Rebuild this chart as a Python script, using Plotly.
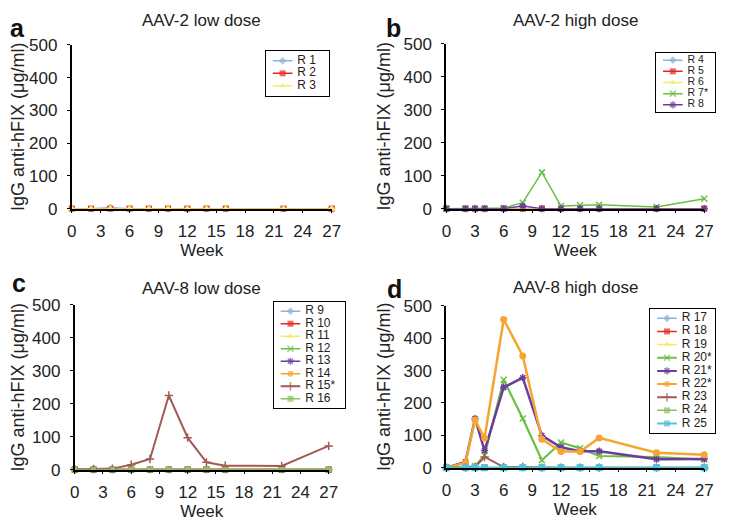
import plotly.graph_objects as go

# ---------------- data ----------------
weeks_a = [0, 2, 4, 6, 8, 10, 12, 14, 16, 22, 27]
R1 = [0, 0, 3, 0, 0, 0, 0, 0, 0, 0, 0]
R2 = [0, 0, 0, 0, 0, 0, 0, 0, 0, 0, 0]
R3 = [0, 0, 0, 0, 0, 0, 0, 0, 0, 0, 0]

weeks_b = [0, 2, 3, 4, 6, 8, 10, 12, 14, 16, 22, 27]
R4 = [0, 0, 0, 0, 0, 0, 0, 0, 0, 0, 0, 0]
R5 = [0, 0, 0, 0, 0, 0, 0, 0, 0, 0, 0, 0]
R6 = [0, 0, 0, 0, 0, 0, 0, 0, 0, 0, 0, 0]
R7 = [0, 0, 0, 0, 2, 18, 110, 8, 10, 12, 5, 30]
R8 = [0, 0, 0, 0, 0, 8, 0, 0, 0, 0, 0, 0]

weeks_c = [0, 2, 4, 6, 8, 10, 12, 14, 16, 22, 27]
R9 = [0, 2, 0, 0, 0, 0, 0, 0, 0, 0, 0]
R10 = [0, 0, 0, 0, 0, 0, 0, 0, 0, 0, 0]
R11 = [0, 0, 0, 0, 0, 0, 0, 0, 0, 0, 0]
R12 = [0, 0, 0, 0, 0, 0, 0, 0, 0, 0, 0]
R13 = [0, 0, 0, 0, 0, 0, 0, 0, 0, 0, 0]
R14 = [0, 0, 0, 0, 0, 0, 0, 0, 0, 0, 0]
R15 = [0, 2, 3, 15, 32, 225, 97, 22, 12, 11, 72]
R16 = [0, 0, 0, 0, 0, 0, 0, 0, 0, 0, 0]

weeks_d = [0, 2, 3, 4, 6, 8, 10, 12, 14, 16, 22, 27]
R17 = [0, 0, 0, 0, 0, 0, 0, 0, 0, 0, 0, 0]
R18 = [0, 0, 0, 0, 0, 0, 0, 0, 0, 0, 0, 0]
R19 = [0, 0, 0, 0, 0, 0, 0, 0, 0, 0, 0, 0]
R20 = [0, 0, 5, 38, 272, 152, 23, 78, 60, 36, 33, 25]
R21 = [0, 18, 152, 53, 248, 278, 99, 63, 51, 51, 26, 27]
R22 = [0, 15, 147, 92, 458, 345, 88, 50, 50, 92, 46, 40]
R23 = [0, 0, 2, 33, 2, 2, 0, 0, 0, 0, 0, 0]
R24 = [0, 0, 0, 0, 0, 0, 0, 0, 0, 0, 0, 0]
R25 = [0, 0, 0, 0, 0, 0, 0, 0, 0, 0, 0, 0]

panel_titles = ["AAV-2 low dose", "AAV-2 high dose", "AAV-8 low dose", "AAV-8 high dose"]
panel_letters = ["a", "b", "c", "d"]
x_ticks = [0, 3, 6, 9, 12, 15, 18, 21, 24, 27]
y_ticks = [0, 100, 200, 300, 400, 500]
y_title = "IgG anti-hFIX (μg/ml)"
x_title = "Week"

# ---------------- styles ----------------
LBLUE = "#8db3d6"
RED = "#e8271c"
YEL = "#f3ec6a"
GREEN = "#6cbf45"
PURP = "#6a3c9c"
ORNG = "#f6a530"
BROWN = "#a35a55"
LGRN = "#8cc264"
CYAN = "#4fc3dc"


def sty(color, symbol, lw=1.5, ms=6, open_=False):
    return dict(color=color, symbol=symbol, lw=lw, ms=ms, open_=open_)


# page body has an 8px margin: keep the figure inside the viewport
OFF = 8
W, H = 733 - 2 * OFF, 529 - 2 * OFF
fig = go.Figure()


def px_x(p):
    return (p - OFF) / W


def px_y(p):
    return 1 - (p - OFF) / H


# (axis suffix, weeks, series, x px, y px, legend box px, title y px, legend font,
#  legend pad, letter position px)
panels = [
    ("", weeks_a, [("R 1", R1, sty(LBLUE, "diamond")), ("R 2", R2, sty(RED, "square")),
                   ("R 3", R3, sty(YEL, "triangle-up", ms=8))],
     (68, 333), (37, 207), (266, 43, 330, 90), 12, 12, 4, (3, 19.5)),
    ("2", weeks_b, [("R 4", R4, sty(LBLUE, "diamond")), ("R 5", R5, sty(RED, "square")),
                    ("R 6", R6, sty(YEL, "triangle-up", ms=8)),
                    ("R 7*", R7, sty(GREEN, "x-thin-open", open_=True)),
                    ("R 8", R8, sty(PURP, "asterisk-open", open_=True))],
     (450, 713), (36, 207), (664, 45, 724, 107), 12, 10.5, 2, (386, 19.5)),
    ("3", weeks_c, [("R 9", R9, sty(LBLUE, "diamond")), ("R 10", R10, sty(RED, "square")),
                    ("R 11", R11, sty(YEL, "triangle-up", ms=8)),
                    ("R 12", R12, sty(GREEN, "x-thin-open", open_=True)),
                    ("R 13", R13, sty(PURP, "asterisk-open", open_=True)),
                    ("R 14", R14, sty(ORNG, "circle")),
                    ("R 15*", R15, sty(BROWN, "cross-thin-open", lw=2, open_=True)),
                    ("R 16", R16, sty(LGRN, "square", ms=5))],
     (71, 330), (307, 478), (274, 304, 347, 414), 290, 12, 3, (5, 284)),
    ("4", weeks_d, [("R 17", R17, sty(LBLUE, "diamond")), ("R 18", R18, sty(RED, "square")),
                    ("R 19", R19, sty(YEL, "triangle-up", ms=8)),
                    ("R 20*", R20, sty(GREEN, "x-thin-open", lw=2.2, open_=True)),
                    ("R 21*", R21, sty(PURP, "asterisk-open", lw=2.5, open_=True)),
                    ("R 22*", R22, sty(ORNG, "circle", lw=2.5, ms=7)),
                    ("R 23", R23, sty(BROWN, "cross-thin-open", lw=2, open_=True)),
                    ("R 24", R24, sty(LGRN, "square", ms=5)),
                    ("R 25", R25, sty(CYAN, "square", lw=2.5, ms=7))],
     (450, 713), (308, 476), (658, 311, 724, 440), 289, 12, 3, (387, 290)),
]

FONT = "Liberation Sans, Arial, sans-serif"
TXT = "#222"
layout_upd = {}
annotations = []


def mk_marker(s, size=None):
    m = dict(symbol=s["symbol"], size=s["ms"] if size is None else size, color=s["color"])
    m["line"] = dict(color=s["color"], width=1.5) if s["open_"] else dict(width=0)
    return m


for i, (suf, wk, series, xd, yd, lb, ty, lfs, pad, lp) in enumerate(panels):
    xa, ya = "x" + suf, "y" + suf
    for name, vals, s in series:
        fig.add_trace(go.Scatter(
            x=wk, y=vals, name=name, mode="lines+markers",
            line=dict(color=s["color"], width=s["lw"]), marker=mk_marker(s),
            xaxis=xa, yaxis=ya, cliponaxis=False, showlegend=False,
        ))
    layout_upd["xaxis" + suf] = dict(
        domain=[px_x(xd[0]), px_x(xd[1])], range=[0, 27], tickvals=x_ticks,
        showgrid=False, zeroline=False, showline=True, linecolor="black", linewidth=1.5,
        ticks="outside", ticklen=3, tickcolor="black", anchor=ya, ticklabelstandoff=3,
        tickfont=dict(size=17, color=TXT, family=FONT),
        title=dict(text=x_title, font=dict(size=17, color=TXT, family=FONT), standoff=4),
    )
    layout_upd["yaxis" + suf] = dict(
        domain=[px_y(yd[1]), px_y(yd[0])], range=[0, 500], tickvals=y_ticks,
        showgrid=False, zeroline=False, showline=True, linecolor="black", linewidth=2,
        ticks="outside", ticklen=3, tickcolor="black", anchor=xa,
        tickfont=dict(size=17, color=TXT, family=FONT), ticklabelstandoff=6,
        title=dict(text=y_title, font=dict(size=18, color=TXT, family=FONT), standoff=8),
    )

    # ---- legend drawn in a small inset axes (pixel units inside the box) ----
    lx0, ly0, lx1, ly1 = lb
    bw, bh = lx1 - lx0, ly1 - ly0
    k = 5 + i
    lxa, lya = "x%d" % k, "y%d" % k
    n = len(series)
    row = (bh - 2 * pad) / n
    ys = [pad + row * (j + 0.5) for j in range(n)]
    for j, (name, vals, s) in enumerate(series):
        fig.add_trace(go.Scatter(
            x=[7, 17, 27], y=[ys[j]] * 3, mode="lines+markers",
            line=dict(color=s["color"], width=min(s["lw"], 2)),
            marker=dict(mk_marker(s, size=[0, 6, 0])),
            xaxis=lxa, yaxis=lya, showlegend=False, hoverinfo="skip", cliponaxis=False,
        ))
    fig.add_trace(go.Scatter(
        x=[32] * n, y=ys,
        text=[nm for nm, _, _ in series], mode="text", textposition="middle right",
        textfont=dict(size=lfs, color=TXT, family=FONT),
        xaxis=lxa, yaxis=lya, showlegend=False, hoverinfo="skip", cliponaxis=False,
    ))
    layout_upd["xaxis%d" % k] = dict(
        domain=[px_x(lx0), px_x(lx1)], range=[0, bw], anchor=lya,
        showgrid=False, zeroline=False, showticklabels=False, ticks="",
        showline=True, mirror=True, linecolor="black", linewidth=1,
    )
    layout_upd["yaxis%d" % k] = dict(
        domain=[px_y(ly1), px_y(ly0)], range=[bh, 0], anchor=lxa,
        showgrid=False, zeroline=False, showticklabels=False, ticks="",
        showline=True, mirror=True, linecolor="black", linewidth=1,
    )

    cx = (xd[0] + xd[1]) / 2
    annotations.append(dict(text=panel_titles[i], x=px_x(cx), y=px_y(ty),
                            xref="paper", yref="paper", showarrow=False,
                            font=dict(size=17, color=TXT, family=FONT),
                            xanchor="center", yanchor="middle"))
    annotations.append(dict(text="<b>" + panel_letters[i] + "</b>", x=px_x(lp[0]),
                            y=px_y(lp[1]), xref="paper", yref="paper", showarrow=False,
                            font=dict(size=25, color="#111", family=FONT),
                            xanchor="left", yanchor="middle"))

fig.update_layout(
    width=W, height=H, margin=dict(l=0, r=0, t=0, b=0),
    plot_bgcolor="white", paper_bgcolor="white", showlegend=False,
    annotations=annotations, **layout_upd,
)
fig.write_html("out.html")
